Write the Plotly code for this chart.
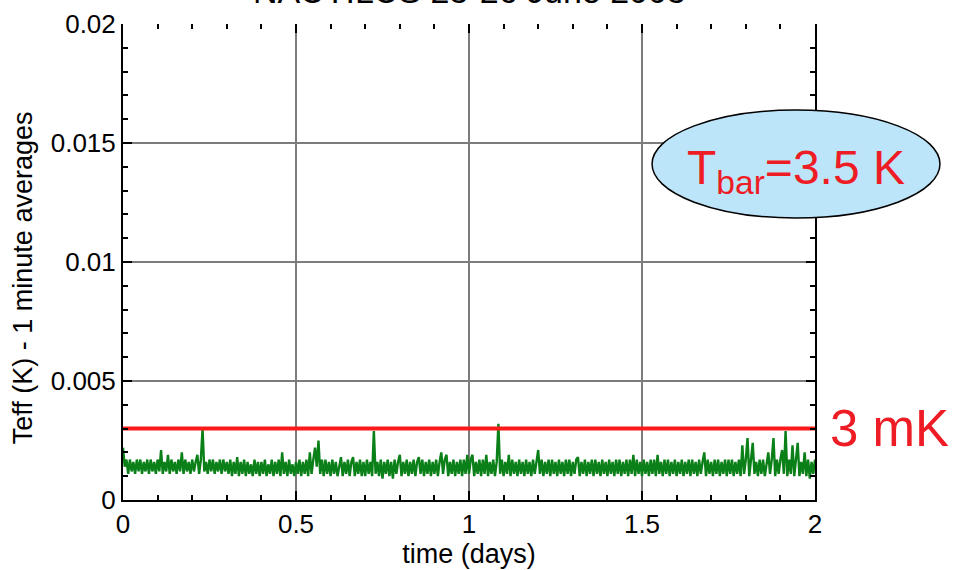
import numpy as np
import plotly.graph_objects as go

# Effective temperature, 1-minute averages, in units of 0.1 mK (one value every 0.005 day)
teff_01mK = [
    22, 14, 17, 11, 17, 12, 16, 11, 17, 12, 17, 11, 16, 12, 17, 11, 17, 12, 16, 11,
    17, 12, 21, 11, 16, 12, 19, 11, 17, 12, 16, 11, 17, 12, 20, 11, 17, 12, 16, 11,
    17, 12, 16, 19, 11, 17, 30, 12, 16, 11, 17, 12, 17, 11, 16, 12, 17, 11, 17, 12,
    16, 11, 17, 10, 16, 11, 18, 10, 16, 11, 17, 10, 16, 11, 15, 10, 17, 11, 16, 10,
    16, 11, 17, 10, 15, 11, 17, 10, 16, 11, 17, 10, 20, 11, 16, 10, 17, 11, 15, 10,
    16, 11, 17, 10, 16, 11, 17, 10, 20, 11, 17, 22, 14, 25, 11, 17, 10, 17, 11, 16,
    10, 17, 11, 16, 10, 15, 18, 10, 16, 11, 17, 10, 16, 18, 10, 16, 11, 17, 10, 16,
    10, 17, 11, 16, 10, 29, 11, 16, 10, 17, 9, 16, 11, 17, 10, 16, 9, 17, 11, 16,
    19, 10, 16, 11, 17, 10, 16, 11, 17, 10, 16, 18, 11, 17, 10, 16, 11, 17, 10, 16,
    11, 17, 10, 16, 20, 11, 17, 19, 10, 16, 11, 17, 10, 16, 11, 17, 10, 17, 11, 19,
    11, 17, 19, 10, 16, 11, 17, 10, 17, 11, 19, 10, 16, 11, 17, 10, 16, 32, 11, 17,
    10, 16, 11, 19, 10, 17, 11, 16, 10, 17, 11, 16, 10, 17, 11, 16, 10, 17, 11, 16,
    21, 11, 17, 10, 16, 11, 17, 10, 17, 11, 16, 10, 17, 11, 16, 10, 17, 11, 17, 10,
    16, 11, 17, 18, 10, 16, 11, 17, 10, 16, 11, 17, 10, 17, 11, 16, 10, 17, 11, 16,
    10, 17, 11, 16, 10, 17, 11, 17, 10, 16, 11, 17, 10, 17, 11, 19, 10, 17, 11, 16,
    10, 17, 11, 16, 10, 17, 11, 17, 10, 19, 11, 16, 10, 17, 11, 17, 10, 16, 11, 17,
    10, 16, 11, 17, 10, 16, 11, 17, 10, 17, 11, 16, 10, 17, 11, 16, 20, 10, 17, 11,
    16, 10, 17, 11, 17, 10, 16, 11, 17, 10, 17, 11, 17, 10, 16, 11, 17, 10, 23, 11,
    17, 26, 10, 17, 24, 11, 16, 10, 17, 11, 17, 10, 16, 20, 11, 17, 26, 10, 17, 11,
    17, 21, 11, 29, 10, 17, 11, 23, 10, 17, 24, 10, 16, 11, 20, 10, 17, 9, 16, 11,
    17,
]
teff = np.array(teff_01mK) * 1e-4
time_days = np.linspace(0.0, 2.0, len(teff))

threshold_K = 0.003
threshold_label = "3 mK"
bar_label = "T<sub>bar</sub>=3.5 K"
title_text = "NAUTILUS 25-26 June 2005"
x_title = "time (days)"
y_title = "Teff (K) - 1 minute averages"

x_ticks = [0, 0.5, 1, 1.5, 2]
x_ticktext = ["0", "0.5", "1", "1.5", "2"]
y_ticks = [0, 0.005, 0.01, 0.015, 0.02]
y_ticktext = ["0", "0.005", "0.01", "0.015", "0.02"]

FONT = "Arial, 'Liberation Sans', sans-serif"

fig = go.Figure()

fig.add_trace(go.Scatter(
    x=time_days, y=teff, mode="lines",
    line=dict(color="#0b8018", width=2.4),
    showlegend=False, hoverinfo="skip",
))

fig.add_trace(go.Scatter(
    x=[0, 2], y=[threshold_K, threshold_K], mode="lines",
    xaxis="x2",
    line=dict(color="#ff1a1a", width=4),
    showlegend=False, hoverinfo="skip",
))

common_minor = dict(ticks="inside", ticklen=5, tickwidth=1.5, tickcolor="black", showgrid=False)

fig.update_layout(
    width=956, height=570,
    margin=dict(l=123, r=141, t=24, b=70),
    paper_bgcolor="white", plot_bgcolor="white",
    font=dict(family=FONT, size=26, color="black"),
    xaxis=dict(
        range=[0, 2], tickvals=x_ticks, ticktext=x_ticktext,
        ticks="inside", ticklen=9, tickwidth=2, tickcolor="black",
        showline=True, linecolor="black", linewidth=2, mirror=False,
        showgrid=True, gridcolor="#7c7c7c", gridwidth=2,
        zeroline=False, automargin=False,
        minor=dict(dtick=0.1, **common_minor),
        title=dict(text=x_title, font=dict(size=27), standoff=2),
    ),
    xaxis2=dict(
        range=[0, 2], overlaying="x", side="top", tickvals=x_ticks,
        showticklabels=False, ticks="inside", ticklen=9, tickwidth=2,
        tickcolor="black", showline=False, showgrid=False, zeroline=False,
        automargin=False,
        minor=dict(dtick=0.1, **common_minor),
    ),
    yaxis=dict(
        range=[0, 0.02], tickvals=y_ticks, ticktext=y_ticktext,
        ticks="inside", ticklen=9, tickwidth=2, tickcolor="black",
        showline=True, linecolor="black", linewidth=2, mirror="ticks",
        showgrid=True, gridcolor="#7c7c7c", gridwidth=2,
        zeroline=False, automargin=False,
        minor=dict(dtick=0.001, **common_minor),
    ),
)

# y-axis title
fig.add_annotation(
    xref="paper", yref="paper", x=-0.1445, y=0.466,
    text=y_title, textangle=-90, showarrow=False,
    font=dict(family=FONT, size=27, color="black"),
    xanchor="center", yanchor="middle",
)

# Operating bath temperature badge
fig.add_shape(
    type="circle", xref="paper", yref="paper",
    x0=0.7645, x1=1.1806, y0=0.5924, y1=0.8193,
    fillcolor="#bde5f9", line=dict(color="black", width=1.5), layer="above",
)
fig.add_annotation(
    xref="paper", yref="paper", x=0.9725, y=0.692,
    text=bar_label, showarrow=False,
    font=dict(family=FONT, size=48, color="#ee1c24"),
    xanchor="center", yanchor="middle",
)

# Threshold label on the right margin
fig.add_annotation(
    xref="paper", yref="y", x=1.0188, y=threshold_K,
    text=threshold_label, showarrow=False,
    font=dict(family=FONT, size=51, color="#ee1c24"),
    xanchor="left", yanchor="middle",
)

# Title, partly above the page edge
fig.add_annotation(
    xref="paper", yref="paper", x=0.5, y=1.025,
    text=title_text, showarrow=False,
    font=dict(family=FONT, size=34, color="black"),
    xanchor="center", yanchor="bottom",
)

fig.write_html("out.html")
